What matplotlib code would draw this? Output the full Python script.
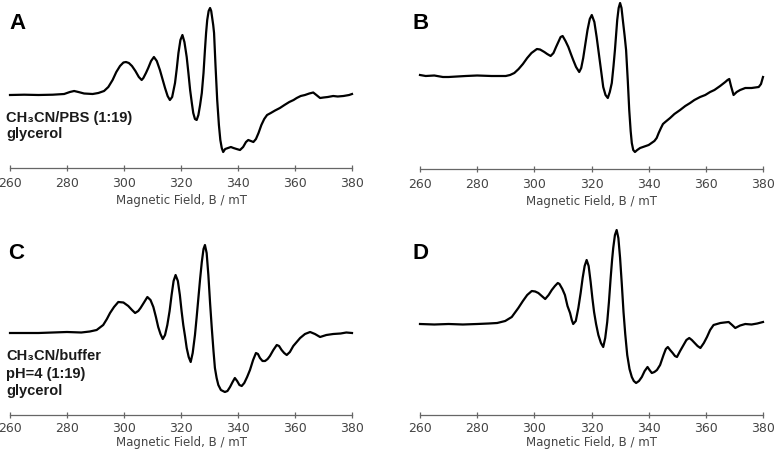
import matplotlib
matplotlib.use("Agg")
import matplotlib.pyplot as plt

W, H = 775, 454

# Magnetic field (mT) and signal (arbitrary units)
field_a = [260, 265, 270, 275, 279, 281, 282.5, 284, 286, 289, 291, 293, 294.5, 296,
           297.3, 298.6, 299.8, 300.7, 301.7, 302.8, 304, 305.2, 306.2, 306.8, 307.7,
           308.5, 309.5, 310.5, 311.5, 312.6, 313.5, 314.4, 315.3, 316.1, 316.9,
           317.9, 318.5, 319.1, 319.8, 320.5, 321.2, 322, 322.6, 323.2, 323.8, 324.3,
           324.9, 325.5, 326.1, 326.7, 327.3, 327.9, 328.4, 328.8, 329.2, 329.7,
           330.2, 330.6, 330.9, 331.3, 331.6, 332.1, 332.7, 333.3, 333.8, 334.3,
           334.8, 335.5, 336.5, 337.5, 338.4, 339.5, 340.7, 341.8, 342.8, 343.6,
           344.5, 345.4, 346.3, 347.2, 348.2, 349.2, 350.2, 351.5, 353, 354.7, 356.3,
           358, 359.5, 360.6, 362, 363.5, 365, 366.4, 367.5, 368.8, 370, 371.5, 373.4,
           375, 377, 379, 380]
signal_a = [0, 0.3, 0, 0.3, 1, 3, 4, 3, 1.5, 1, 2, 4, 8, 15,
            23, 29, 32.5, 33, 32, 29, 24, 18, 15, 17, 22,
            27, 34, 38, 34, 25, 16, 7, -1, -5, -2,
            12, 26, 42, 55, 60, 53, 38, 22, 5, -8, -18,
            -24, -25, -20, -10, 2, 22, 45, 62, 75, 84,
            87, 84, 78, 70, 62, 30, -5, -30, -45, -53,
            -57, -54, -53, -52, -53, -54, -55, -52, -47, -45,
            -46, -47, -44, -38, -30, -24, -20, -18, -15.5, -13, -10,
            -7, -5, -3, -1, 0, 1.5, 2.5, 0, -3, -2.5, -2, -1,
            -1.5, -1, 0, 1]

field_b = [260, 262, 265, 268, 270, 273, 276, 280, 285, 288, 290, 291.5, 293, 294.5,
           296, 297.5, 299, 300.9, 302, 303.5, 304.5, 305.7, 306.7, 307.6, 308.4,
           309.2, 309.9, 310.9, 311.9, 312.8, 313.6, 314.6, 315.7, 316.4, 317.1,
           317.9, 318.6, 319.4, 320.1, 321, 321.8, 322.4, 323, 323.6, 324.1, 324.9,
           325.7, 326.4, 327.1, 327.7, 328.2, 328.6, 329, 329.5, 330, 330.5, 331,
           331.6, 332.1, 332.7, 333.2, 333.7, 334.1, 334.6, 335.2, 336, 337, 338,
           339, 340, 341, 342, 342.8, 343.5, 344.3, 345, 345.8, 347.5, 349, 351,
           352.8, 354.5, 356, 358, 359.8, 361.5, 363, 365, 366.8, 367.6, 368.2, 368.8,
           369.7, 370.8, 372, 373.8, 376, 378.5, 379.3, 380]
signal_b = [1, 0, 0.5, -1, -1, -0.5, 0, 0.5, 0, 0, 0, 1, 3, 7,
            12, 18, 23, 27, 26.5, 24, 22, 20, 23, 29, 34,
            39, 40, 35, 29, 22, 16, 9, 4, 8, 18,
            33, 46, 57, 61, 54, 39, 26, 13, 0, -11, -19,
            -22, -16, -7, 10, 26, 41, 56, 68, 73, 68, 55,
            40, 26, -5, -34, -55, -67, -74, -76, -74, -72, -71,
            -70, -69, -67, -65, -62, -57, -52, -48, -46, -42, -38, -34,
            -30, -27, -24, -21, -19, -16, -14, -10, -6, -4, -3, -10,
            -19, -16, -14, -12, -12, -11, -8, -1]

field_c = [260, 265, 270, 275, 280, 285, 288, 290.4, 292.7, 294, 295.1, 296.5, 298,
           299.8, 301.5, 302.8, 303.9, 305, 305.8, 306.9, 308.2, 309.3, 310.3, 311.2,
           312, 312.8, 313.6, 314.4, 315.2, 316, 316.7, 317.4, 318.1, 318.9, 319.6,
           320.2, 320.8, 321.4, 322, 322.7, 323.4, 324.1, 324.9, 325.5, 326.1, 326.7,
           327.3, 327.9, 328.4, 329, 329.6, 330.2, 330.8, 331.4, 331.9, 332.5, 333.1,
           334, 335.4, 336.3, 337.2, 338.1, 338.9, 339.7, 340.5, 341.3, 342.2, 343.2,
           344.2, 345.3, 346.3, 347, 347.7, 348.6, 349.5, 350.4, 351.2, 352.4, 353.6,
           354.4, 355.3, 356.2, 357.1, 358.2, 359.4, 360.6, 361.8, 363.5, 365.3, 367,
           368.8, 371, 373.4, 376, 378, 380]
signal_c = [0, 0, 0, 0.5, 1, 0.5, 1.5, 3, 8, 14, 20, 26, 31,
            30.5, 27, 23, 20, 22, 25, 30, 36, 33, 26, 16,
            6, -1, -6, -2, 8, 22, 38, 52, 58, 52, 38,
            22, 8, -3, -15, -24, -29, -20, -2, 16, 35, 54,
            71, 84, 88, 80, 58, 30, 5, -18, -35, -45, -52,
            -57, -59, -58, -54, -49, -45, -48, -52, -53, -50, -44,
            -37, -27, -20, -21, -25, -28, -28, -26, -23, -17, -12,
            -13, -17, -20, -22, -19, -13, -9, -5, -1, 1, -1,
            -4, -2, -1, -0.5, 0.5, 0]

field_d = [260, 265, 270, 275, 280, 284, 287, 289.8, 292.1, 294.4, 296, 297.5, 299.1,
           300.3, 301.4, 302.6, 303.8, 305, 306.1, 307.2, 308.2, 308.8, 309.8, 310.7,
           311.6, 312.5, 313.1, 313.6, 314.5, 315.4, 316.2, 316.9, 317.6, 318.3, 319,
           319.7, 320.3, 320.9, 321.6, 322.4, 323.3, 324.1, 324.8, 325.5, 326.1, 326.7,
           327.2, 327.6, 328.2, 328.8, 329.4, 330, 330.6, 331.2, 331.8, 332.5, 333.3,
           334.1, 334.8, 335.6, 336.6, 337.6, 338.6, 339.6, 340.3, 341.1, 342, 342.9,
           344, 345.2, 346, 346.7, 347.5, 348.4, 349.2, 349.9, 351, 352.2, 353.2,
           354.2, 355.1, 356.1, 357.1, 358.1, 359.3, 360.4, 361.5, 362.7, 365.1, 366.5,
           368, 369.2, 370.3, 372, 373.8, 376, 378, 380]
signal_d = [0, -0.5, 0, -0.5, 0, 0.5, 1, 3, 7, 16, 23, 29, 33,
            32.5, 31, 28, 25, 29, 34, 38, 41, 40, 35, 29,
            18, 11, 4, 0, 3, 16, 31, 46, 58, 64, 58,
            42, 26, 12, 0, -11, -19, -23, -14, 2, 22, 46,
            64, 76, 89, 94, 86, 66, 40, 12, -10, -31, -45,
            -53, -57, -59, -57, -53, -47, -43, -46, -49, -48, -46,
            -41, -31, -25, -23, -26, -29, -32, -33, -27, -21, -16,
            -14, -16, -19, -22, -24, -19, -13, -6, -1, 1, 1.5,
            2, -1, -4, -1.5, 0, -0.5, 0.5, 2]

panel_letters = ["A", "B", "C", "D"]
notes = {"A": ["CH\u2083CN/PBS (1:19)", "glycerol"],
         "C": ["CH\u2083CN/buffer", "pH=4 (1:19)", "glycerol"]}
ticks = [260, 280, 300, 320, 340, 360, 380]
xlabel = "Magnetic Field, B / mT"

# layout in pixels: left, right, top, axis line, baseline
layout = {
    "A": (10, 352, 0, 168, 95),
    "B": (420, 763, 0, 169, 76),
    "C": (10, 352, 228, 415, 333),
    "D": (420, 763, 228, 415, 324),
}
pads = {"A": (4, 3), "B": (4, 3), "C": (2.5, 1), "D": (2.5, 1)}
letter_pos = {"A": (9, 29), "B": (412, 29), "C": (8, 259), "D": (412, 259)}
note_pos = {"A": (6, [122, 138]), "C": (6, [360, 378, 395])}

data = {"A": (field_a, signal_a), "B": (field_b, signal_b),
        "C": (field_c, signal_c), "D": (field_d, signal_d)}

gray = "#666666"
fig = plt.figure(figsize=(W / 100, H / 100), dpi=100)

for key in panel_letters:
    left, right, top, bottom, base = layout[key]
    ax = fig.add_axes([left / W, 1 - bottom / H, (right - left) / W, (bottom - top) / H])
    x, y = data[key]
    ax.plot(x, y, color="black", lw=1.6, clip_on=False, solid_joinstyle="round")
    ax.set_xlim(260, 380)
    ax.set_ylim(base - bottom, base - top)
    ax.patch.set_visible(False)
    for s in ["top", "right", "left"]:
        ax.spines[s].set_visible(False)
    ax.spines["bottom"].set_color(gray)
    ax.spines["bottom"].set_linewidth(0.9)
    ax.set_yticks([])
    ax.set_xticks(ticks)
    tpad, lpad = pads[key]
    ax.tick_params(axis="x", direction="inout", length=5, width=0.9, color=gray,
                   labelcolor="#444444", labelsize=9, pad=tpad)
    ax.set_xlabel(xlabel, color="#444444", fontsize=8.5, labelpad=lpad)

    lx, ly = letter_pos[key]
    fig.text(lx / W, 1 - ly / H, key, fontsize=16, fontweight="bold",
             family=["Liberation Sans", "DejaVu Sans"], va="baseline", ha="left")

for key, lines in notes.items():
    nx, ys = note_pos[key]
    for line, ny in zip(lines, ys):
        fig.text(nx / W, 1 - ny / H, line, fontsize=10.5, fontweight="bold",
                 color="#1a1a1a", family=["Liberation Sans", "DejaVu Sans"],
                 va="baseline", ha="left")

fig.savefig("out.png", dpi=100)
